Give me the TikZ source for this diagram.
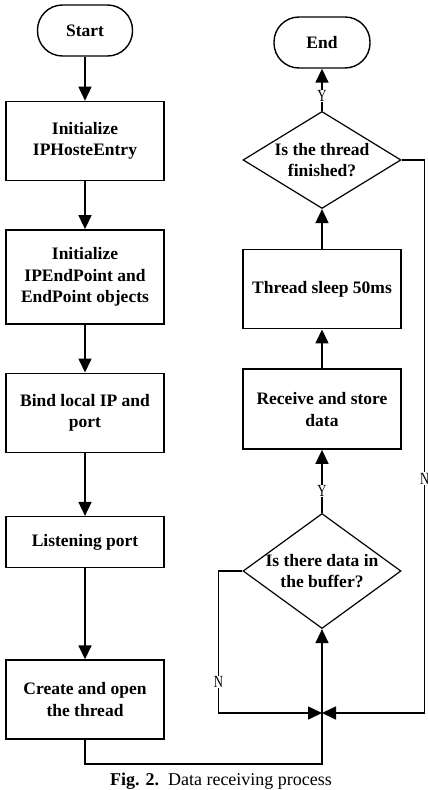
\documentclass[tikz,border=0pt]{standalone}
\usepackage{fontspec}
\setmainfont{Liberation Serif}
\usetikzlibrary{positioning,shapes.geometric,arrows.meta}

\tikzset{
  term/.style={draw,line width=1.4pt,rectangle,rounded corners=25pt,minimum width=95pt,minimum height=51pt,font=\bfseries\fontsize{17.5}{21.7}\selectfont},
  proc/.style={draw,line width=1.4pt,rectangle,minimum width=158pt,align=center,font=\bfseries\fontsize{17.5}{21.7}\selectfont},
  decide/.style={draw,line width=1.2pt,diamond,inner sep=-8pt,minimum width=158pt,minimum height=94pt,align=center,font=\bfseries\fontsize{17.5}{21.7}\selectfont},
  flow/.style={line width=1.6pt,-{Triangle[length=14pt,width=13pt]}},
  yn/.style={fill=white,inner sep=0.5pt,font=\fontsize{17}{17}\selectfont}
}

\begin{document}
\begin{tikzpicture}
\useasboundingbox (0,0) rectangle (428pt,-790pt);

% left column
\node[term] (start) at (85pt,-30.5pt) {Start};
\node[proc,minimum height=79pt,below=44pt of start] (hostentry) {Initialize\\IPHosteEntry};
\node[proc,minimum height=94pt,below=48pt of hostentry] (endpoint) {Initialize\\IPEndPoint and\\EndPoint objects};
\node[proc,minimum height=79pt,below=48pt of endpoint] (bind) {Bind local IP and\\port};
\node[proc,minimum height=51pt,below=63pt of bind] (listen) {Listening port};
\node[proc,minimum height=79pt,below=91pt of listen] (create) {Create and open\\the thread};

% right column
\node[decide] (buffer) at (322pt,-571pt) {Is there data in\\the buffer?};
\node[proc,minimum height=80pt,above=63pt of buffer] (receive) {Receive and store\\data};
\node[proc,minimum height=79pt,above=39pt of receive] (sleep) {Thread sleep 50ms};
\node[decide,above=40pt of sleep] (finished) {Is the thread\\finished?};
\node[term,minimum width=96pt] (end) at (322pt,-42.5pt) {End};
\coordinate (join) at (322pt,-713pt);

\draw[flow] (start) -- (hostentry);
\draw[flow] (hostentry) -- (endpoint);
\draw[flow] (endpoint) -- (bind);
\draw[flow] (bind) -- (listen);
\draw[flow] (listen) -- (create);
\draw[line width=1.6pt] (create.south) -- ++(0,-24pt) -| (join);
\draw[flow] (join) -- (buffer.south);
\draw[flow] (buffer.north) -- node[yn,pos=0.35]{\scalebox{0.75}[1]{Y}} (receive.south);
\draw[flow] (receive) -- (sleep);
\draw[flow] (sleep) -- (finished);
\draw[flow] (finished.north) -- node[yn,pos=0.35]{\scalebox{0.75}[1]{Y}} (end.south);
\draw[flow] (buffer.west) -- ++(-24pt,0) |- node[yn,pos=0.39]{\scalebox{0.75}[1]{N}} (join);
\draw[flow] (finished.east) -- ++(23pt,0) |- node[yn,pos=0.288]{\scalebox{0.75}[1]{N}} (join);

\node[font=\fontsize{18}{18}\selectfont] (caption) at (221pt,-781pt) {\textbf{Fig. 2.}\ \ Data receiving process};
\end{tikzpicture}
\end{document}
